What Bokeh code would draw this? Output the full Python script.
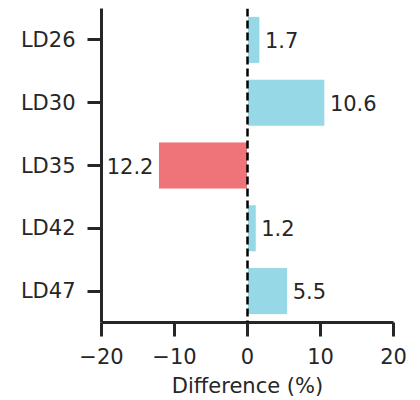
from bokeh.plotting import figure
from bokeh.models import FactorRange, Range1d, FixedTicker, Span, ColumnDataSource
from bokeh.embed import file_html
from bokeh.resources import INLINE

categories = ["LD26", "LD30", "LD35", "LD42", "LD47"]
values = [1.7, 10.6, -12.2, 1.2, 5.5]
x_ticks = [-20, -10, 0, 10, 20]
x_tick_labels = ["\u221220", "\u221210", "0", "10", "20"]

POS = "#97d8e6"
NEG = "#ef7479"
TXT = "#262626"
FONT = "DejaVu Sans"

colors = [POS if v >= 0 else NEG for v in values]
labels = [f"{abs(v):.1f}" for v in values]
align = ["left" if v >= 0 else "right" for v in values]
offs = [5 if v >= 0 else -5 for v in values]

src = ColumnDataSource(dict(cat=categories, val=values, color=colors,
                            label=labels, align=align, offs=offs))

p = figure(width=410, height=400, output_backend="svg", toolbar_location=None,
           y_range=FactorRange(factors=list(reversed(categories))),
           x_range=Range1d(-20, 20),
           min_border_left=101, min_border_right=17, min_border_top=8,
           min_border_bottom=70)
p.outline_line_color = None
p.grid.visible = False
p.background_fill_color = "white"
p.border_fill_color = "white"

p.hbar(y="cat", left=0, right="val", height=0.75, fill_color="color",
       line_color="white", line_width=1, source=src)

p.add_layout(Span(location=0, dimension="height", line_color="black",
                  line_width=2.5, line_dash="8 4"))

p.text(x="val", y="cat", text="label", text_align="align", x_offset="offs",
       text_baseline="middle", text_font_size="21px", text_color=TXT,
       text_font={"value": FONT}, source=src)

for ax in (p.xaxis[0], p.yaxis[0]):
    ax.axis_line_width = 3
    ax.axis_line_color = TXT
    ax.major_tick_line_width = 3
    ax.major_tick_line_color = TXT
    ax.major_tick_out = 14
    ax.major_tick_in = 0
    ax.minor_tick_line_color = None
    ax.major_label_text_font = FONT
    ax.major_label_text_font_size = "21px"
    ax.major_label_text_color = TXT
    ax.major_label_standoff = 11

p.yaxis.major_label_standoff = 12
p.xaxis.ticker = FixedTicker(ticks=x_ticks)
p.xaxis.major_label_overrides = {t: l for t, l in zip(x_ticks, x_tick_labels)}
p.xaxis.axis_label = "Difference (%)"
p.xaxis.axis_label_text_font = FONT
p.xaxis.axis_label_text_font_size = "21px"
p.xaxis.axis_label_text_font_style = "normal"
p.xaxis.axis_label_text_color = TXT
p.xaxis.axis_label_standoff = 7

open("out.html", "w").write(file_html(p, INLINE))
